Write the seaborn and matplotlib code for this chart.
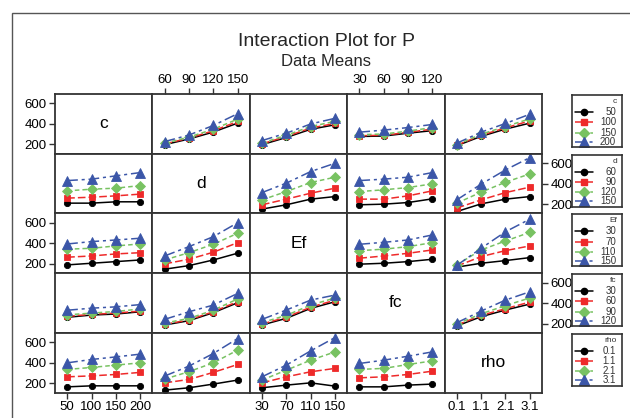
import matplotlib
matplotlib.use("Agg")
import matplotlib.pyplot as plt
from matplotlib.patches import Rectangle
import seaborn as sns
import pandas as pd

# ---------------- data ----------------
factors = ["c", "d", "Ef", "fc", "rho"]
levels = {
    "c": [50, 100, 150, 200],
    "d": [60, 90, 120, 150],
    "Ef": [30, 70, 110, 150],
    "fc": [30, 60, 90, 120],
    "rho": [0.1, 1.1, 2.1, 3.1],
}
level_labels = {
    "c": ["50", "100", "150", "200"],
    "d": ["60", "90", "120", "150"],
    "Ef": ["30", "70", "110", "150"],
    "fc": ["30", "60", "90", "120"],
    "rho": ["0.1", "1.1", "2.1", "3.1"],
}

# mean P: rows = levels of the trace factor, columns = levels of the x factor
c_vs_d = [[198, 253, 321, 408], [205, 262, 333, 424], [212, 272, 348, 447], [228, 292, 385, 500]]
c_vs_Ef = [[198, 268, 348, 392], [206, 278, 360, 405], [214, 290, 375, 425], [238, 310, 400, 455]]
c_vs_fc = [[278, 282, 310, 335], [285, 290, 318, 350], [295, 302, 330, 365], [320, 340, 365, 395]]
c_vs_rho = [[188, 279, 350, 408], [192, 290, 362, 430], [198, 300, 375, 450], [212, 320, 405, 495]]

d_vs_c = [[210, 210, 223, 223], [259, 268, 281, 298], [330, 346, 356, 381], [430, 444, 476, 508]]
d_vs_Ef = [[152, 194, 249, 274], [194, 249, 307, 356], [242, 323, 411, 463], [313, 405, 518, 599]]
d_vs_fc = [[194, 200, 216, 252], [249, 249, 281, 330], [323, 340, 362, 398], [430, 444, 463, 508]]
d_vs_rho = [[128, 203, 249, 274], [162, 242, 313, 366], [210, 317, 414, 495], [242, 395, 534, 654]]

Ef_vs_c = [[190, 206, 222, 238], [265, 277, 297, 309], [343, 352, 375, 394], [394, 417, 433, 450]]
Ef_vs_d = [[148, 183, 238, 304], [200, 245, 313, 407], [238, 309, 391, 498], [277, 368, 465, 601]]
Ef_vs_fc = [[197, 206, 222, 245], [255, 277, 303, 336], [329, 343, 368, 407], [391, 410, 433, 482]]
Ef_vs_rho = [[168, 206, 232, 261], [178, 271, 329, 375], [190, 336, 423, 507], [185, 352, 513, 636]]

fc_vs_c = [[261, 283, 293, 315], [270, 290, 302, 322], [285, 302, 318, 342], [330, 350, 363, 385]]
fc_vs_d = [[186, 228, 306, 403], [192, 236, 315, 415], [205, 250, 330, 440], [241, 315, 380, 494]]
fc_vs_Ef = [[186, 251, 348, 413], [195, 262, 360, 428], [210, 280, 380, 450], [241, 332, 429, 478]]
fc_vs_rho = [[176, 267, 332, 390], [185, 280, 345, 410], [195, 295, 375, 450], [208, 322, 429, 510]]

rho_vs_c = [[165, 175, 175, 175], [263, 272, 286, 306], [335, 354, 377, 399], [399, 432, 457, 484]]
rho_vs_d = [[133, 156, 192, 231], [204, 237, 306, 383], [240, 313, 399, 523], [270, 367, 490, 636]]
rho_vs_Ef = [[156, 182, 204, 172], [204, 263, 312, 345], [231, 328, 425, 506], [263, 377, 516, 646]]
rho_vs_fc = [[165, 165, 182, 192], [253, 263, 286, 318], [335, 345, 383, 418], [393, 425, 464, 506]]

panels = {
    ("c", "d"): c_vs_d, ("c", "Ef"): c_vs_Ef, ("c", "fc"): c_vs_fc, ("c", "rho"): c_vs_rho,
    ("d", "c"): d_vs_c, ("d", "Ef"): d_vs_Ef, ("d", "fc"): d_vs_fc, ("d", "rho"): d_vs_rho,
    ("Ef", "c"): Ef_vs_c, ("Ef", "d"): Ef_vs_d, ("Ef", "fc"): Ef_vs_fc, ("Ef", "rho"): Ef_vs_rho,
    ("fc", "c"): fc_vs_c, ("fc", "d"): fc_vs_d, ("fc", "Ef"): fc_vs_Ef, ("fc", "rho"): fc_vs_rho,
    ("rho", "c"): rho_vs_c, ("rho", "d"): rho_vs_d, ("rho", "Ef"): rho_vs_Ef, ("rho", "fc"): rho_vs_fc,
}
y_ticks = [200, 400, 600]

# ---------------- style ----------------
sns.set_style("white")
plt.rcParams["font.family"] = ["Liberation Sans", "DejaVu Sans"]

line_styles = [
    dict(color="black", marker="o", markersize=4.5, linestyle="-"),
    dict(color="#EE2A2A", marker="s", markersize=4.9, linestyle=(0, (5, 2))),
    dict(color="#78C262", marker="D", markersize=4.6, linestyle=(0, (3, 2))),
    dict(color="#3B56A8", marker="^", markersize=7.0, linestyle=(0, (7, 2.5, 2, 2.5))),
]

W, H = 630, 418
fig = plt.figure(figsize=(W / 100, H / 100), dpi=100)

left0, top0 = 55.0, 94.0
cw, rh = 97.4, 59.7
spine_col = "#333333"

def fx(px):
    return px / W

def fy(py):
    return 1 - py / H

for i, fr in enumerate(factors):          # trace factor (rows)
    for j, fcn in enumerate(factors):     # x factor (columns)
        x0 = left0 + j * cw
        y0 = top0 + i * rh
        ax = fig.add_axes([fx(x0), fy(y0 + rh), cw / W, rh / H])
        xs = levels[fcn]
        step = xs[1] - xs[0]
        ax.set_xlim(xs[0] - step / 2, xs[-1] + step / 2)
        ax.set_ylim(110, 692)
        for s in ax.spines.values():
            s.set_color(spine_col)
            s.set_linewidth(1.3)
        if fr == fcn:
            ax.text(0.5, 0.5, fr, transform=ax.transAxes, ha="center", va="center",
                    fontsize=12.5, color="black")
        else:
            vals = panels[(fr, fcn)]
            for k, lev in enumerate(levels[fr]):
                df = pd.DataFrame({"x": xs, "P": vals[k]})
                st = line_styles[k]
                sns.lineplot(data=df, x="x", y="P", ax=ax, color=st["color"],
                             marker=st["marker"], markersize=st["markersize"],
                             linestyle=st["linestyle"], linewidth=1.1,
                             markeredgecolor=st["color"], markeredgewidth=0.6)
        ax.set_xlabel("")
        ax.set_ylabel("")
        ax.set_xticks(xs)
        ax.set_yticks(y_ticks)
        show_left = (j == 0 and i % 2 == 0)
        show_right = (j == 4 and i % 2 == 1)
        show_top = (i == 0 and j % 2 == 1)
        show_bottom = (i == 4 and j % 2 == 0)
        ax.tick_params(axis="y", which="both", direction="out", length=4.5, width=1,
                       colors=spine_col, labelcolor="black", labelsize=9.5, pad=1.5,
                       left=show_left, labelleft=show_left,
                       right=show_right, labelright=show_right)
        ax.tick_params(axis="x", which="both", direction="out", length=4.5, width=1,
                       colors=spine_col, labelcolor="black", labelsize=9.5, pad=1.5,
                       top=show_top, labeltop=show_top,
                       bottom=show_bottom, labelbottom=show_bottom)
        if show_top or show_bottom:
            ax.set_xticklabels(level_labels[fcn])

    # legend box for this row
    lax = fig.add_axes([fx(572), fy(top0 + i * rh + 0.8 + 52), 50 / W, 52 / H])
    lax.set_xlim(0, 1)
    lax.set_ylim(0, 1)
    lax.set_xticks([])
    lax.set_yticks([])
    for s in lax.spines.values():
        s.set_color(spine_col)
        s.set_linewidth(1.2)
    lax.text(0.9, 0.87, fr, ha="right", va="center", fontsize=6, color="#333333")
    ypos = [0.67, 0.47, 0.275, 0.10]
    for k, lab in enumerate(level_labels[fr]):
        st = line_styles[k]
        lax.plot([0.06, 0.42], [ypos[k], ypos[k]], color=st["color"],
                 linestyle=st["linestyle"], linewidth=1.1)
        lax.plot([0.24], [ypos[k]], color=st["color"], marker=st["marker"],
                 markersize=st["markersize"], markeredgecolor=st["color"], linestyle="none")
        lax.text(0.88, ypos[k], lab, ha="right", va="center", fontsize=7, color="#333333")

fig.text(fx(326), fy(42), "Interaction Plot for P", ha="center", va="center", fontsize=14)
fig.text(fx(326), fy(61), "Data Means", ha="center", va="center", fontsize=12)

fig.patches.append(Rectangle((fx(12), -0.05), 1.2, fy(13) + 0.05, transform=fig.transFigure,
                             fill=False, edgecolor="#555555", linewidth=1.0))

fig.savefig("out.png", dpi=100)
